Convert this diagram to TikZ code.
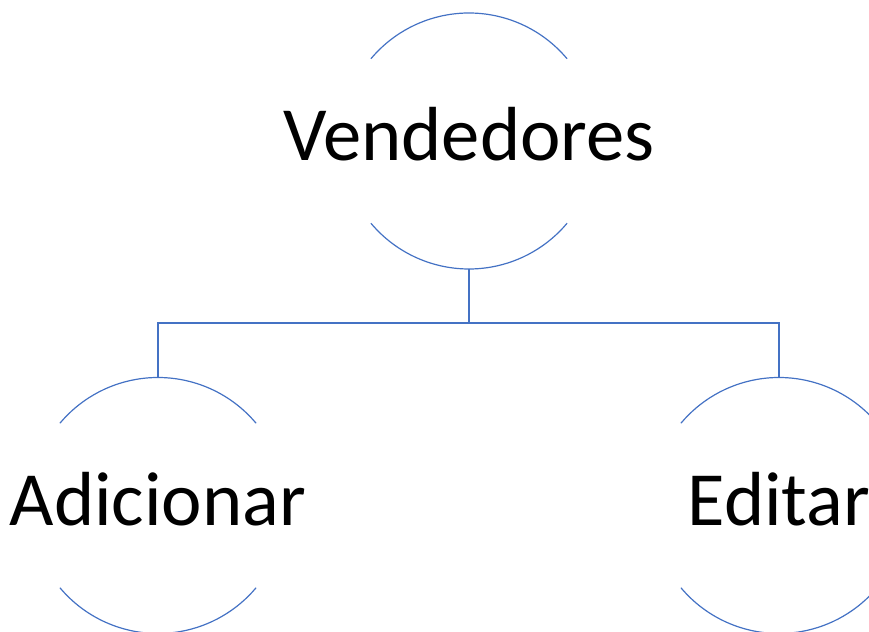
\documentclass[tikz,border=0pt]{standalone}
\usepackage{fontspec}
\setmainfont{Carlito}
\definecolor{linkblue}{HTML}{4472C4}
\tikzset{
    bubble/.style={circle, minimum size=192pt, inner sep=0pt, outer sep=0pt},
    arcline/.style={draw=linkblue, line width=0.9pt},
    caption/.style={font=\fontsize{57.5}{62}\selectfont, anchor=base, inner sep=0pt}
}
\begin{document}
\begin{tikzpicture}[x=0.75pt, y=0.75pt]
    \useasboundingbox (0,0) rectangle (869,632);

    % Circles (only the centres, the arcs are drawn below)
    \node[bubble] (vend) at (469,491) {};
    \node[bubble] (add) at (158,126.5) {};
    \node[bubble] (edit) at (779,126.5) {};

    % Labels
    \node[caption] (vendtext) at ([yshift=-15pt]vend.center) {Vendedores};
    \node[caption] (addtext) at ([yshift=-15pt]add.center) {Adicionar};
    \node[caption] (edittext) at ([yshift=-15pt]edit.center) {Editar};

    % Arcs above and below each label
    \foreach \c in {vend, add, edit} {
        \draw[arcline] (\c.40) arc (40:140:96pt);
        \draw[arcline] (\c.220) arc (220:320:96pt);
    }

    % Tree connectors
    \coordinate (fork) at (469,309);
    \draw[arcline] (vend.south) -- (fork);
    \draw[arcline] (add.north) |- (fork) -| (edit.north);
\end{tikzpicture}
\end{document}
